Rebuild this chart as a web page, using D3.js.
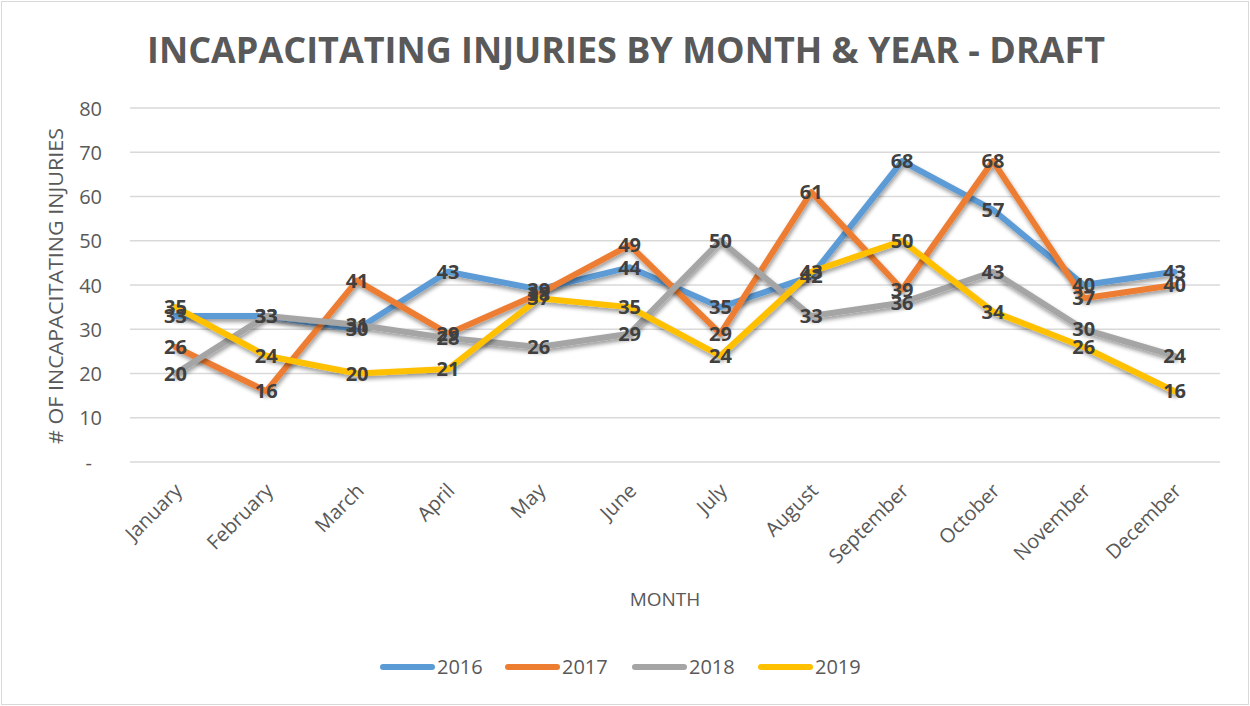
<!DOCTYPE html>
<html>
<head>
<meta charset="utf-8">
<script src="https://cdn.jsdelivr.net/npm/d3@7"></script>
<style>
  html, body { margin: 0; padding: 0; background: #fff; }
  svg { display: block; }
  text { font-family: "Open Sans", "Liberation Sans", sans-serif; }
</style>
</head>
<body>
<svg id="chart" width="1250" height="706"></svg>
<script>
const months = ["January","February","March","April","May","June","July","August","September","October","November","December"];
const years = ["2016","2017","2018","2019"];
const v2016 = [33,33,30,43,39,44,35,42,68,57,40,43];
const v2017 = [26,16,41,29,38,49,29,61,39,68,37,40];
const v2018 = [20,33,31,28,26,29,50,33,36,43,30,24];
const v2019 = [35,24,20,21,37,35,24,43,50,34,26,16];
const colors = ["#5B9BD5","#ED7D31","#A5A5A5","#FFC000"];
const yTicks = [0,10,20,30,40,50,60,70,80];
const titleText = "INCAPACITATING INJURIES BY MONTH & YEAR - DRAFT";
const yTitle = "# OF INCAPACITATING INJURIES";
const xTitle = "MONTH";

const seriesValues = [v2016, v2017, v2018, v2019];
const series = years.map((yr, i) => ({ name: yr, color: colors[i], values: seriesValues[i] }));

const svg = d3.select("#chart");
const W = 1250, H = 706;

svg.append("rect").attr("x", 1.5).attr("y", 1.5).attr("width", W - 3).attr("height", H - 3)
  .attr("fill", "#fff").attr("stroke", "#d9d9d9").attr("stroke-width", 1);

const defs = svg.append("defs");
const f = defs.append("filter").attr("id", "shadow").attr("x", "-10%").attr("y", "-10%").attr("width", "120%").attr("height", "130%");
f.append("feGaussianBlur").attr("in", "SourceAlpha").attr("stdDeviation", 2).attr("result", "blur");
f.append("feOffset").attr("in", "blur").attr("dx", 1).attr("dy", 3).attr("result", "off");
f.append("feComponentTransfer").attr("in", "off").attr("result", "sh")
  .append("feFuncA").attr("type", "linear").attr("slope", 0.4);
const mg = f.append("feMerge");
mg.append("feMergeNode").attr("in", "sh");
mg.append("feMergeNode").attr("in", "SourceGraphic");

const pLeft = 130, pRight = 1220, pTop = 108, pBottom = 462;

const x = d3.scaleBand().domain(months).range([pLeft, pRight]);
const y = d3.scaleLinear().domain([0, 80]).range([pBottom, pTop]);

svg.append("g").selectAll("line").data(yTicks).join("line")
  .attr("x1", pLeft).attr("x2", pRight)
  .attr("y1", d => y(d)).attr("y2", d => y(d))
  .attr("stroke", "#d9d9d9").attr("stroke-width", 1.5);

const yAxis = d3.axisLeft(y).tickValues(yTicks).tickSize(0).tickPadding(0)
  .tickFormat(d => d === 0 ? "-" : d);
const gy = svg.append("g").attr("transform", `translate(${pLeft - 28},0)`).call(yAxis);
gy.select(".domain").remove();
gy.selectAll("text").attr("fill", "#595959").attr("font-size", 20).attr("dy", "0.35em").attr("dx", d => d === 0 ? -10 : 0);

const xAxis = d3.axisBottom(x).tickSize(0).tickPadding(0);
const gx = svg.append("g").attr("transform", `translate(0,${pBottom})`).call(xAxis);
gx.select(".domain").remove();
gx.selectAll("text")
  .attr("fill", "#595959").attr("font-size", 20)
  .attr("text-anchor", "end")
  .attr("x", 0).attr("y", 0).attr("dy", 0)
  .attr("transform", "translate(8,30) rotate(-45)");

svg.append("text").attr("x", 626).attr("y", 63).attr("text-anchor", "middle")
  .attr("font-size", 36).attr("font-weight", "bold").attr("fill", "#595959")
  .attr("textLength", 958).attr("lengthAdjust", "spacingAndGlyphs")
  .text(titleText);

svg.append("text").attr("transform", "translate(63,286) rotate(-90)").attr("text-anchor", "middle")
  .attr("font-size", 20).attr("fill", "#595959")
  .attr("textLength", 316).attr("lengthAdjust", "spacingAndGlyphs")
  .text(yTitle);

svg.append("text").attr("x", 665).attr("y", 606).attr("text-anchor", "middle")
  .attr("font-size", 19).attr("fill", "#595959").text(xTitle);

const line = d3.line().x((d, i) => x(months[i]) + x.bandwidth() / 2).y(d => y(d));
svg.append("g").selectAll("path").data(series).join("path")
  .attr("d", d => line(d.values))
  .attr("fill", "none").attr("stroke", d => d.color).attr("stroke-width", 6)
  .attr("stroke-linejoin", "round").attr("stroke-linecap", "round")
  .attr("filter", "url(#shadow)");

const lg = svg.append("g");
series.forEach(s => {
  lg.append("g").selectAll("text").data(s.values).join("text")
    .attr("x", (d, i) => x(months[i]) + x.bandwidth() / 2)
    .attr("y", d => y(d))
    .attr("dy", "0.36em")
    .attr("text-anchor", "middle")
    .attr("font-size", 20).attr("font-weight", "bold").attr("fill", "#404040")
    .text(d => d);
});

const legendX = [380, 505, 632, 758];
const leg = svg.append("g");
years.forEach((yr, i) => {
  leg.append("line").attr("x1", legendX[i] + 3).attr("x2", legendX[i] + 52).attr("y1", 667).attr("y2", 667)
    .attr("stroke", colors[i]).attr("stroke-width", 6).attr("stroke-linecap", "round");
  leg.append("text").attr("x", legendX[i] + 57).attr("y", 667).attr("dy", "0.36em")
    .attr("font-size", 20).attr("fill", "#595959").text(yr);
});
</script>
</body>
</html>
